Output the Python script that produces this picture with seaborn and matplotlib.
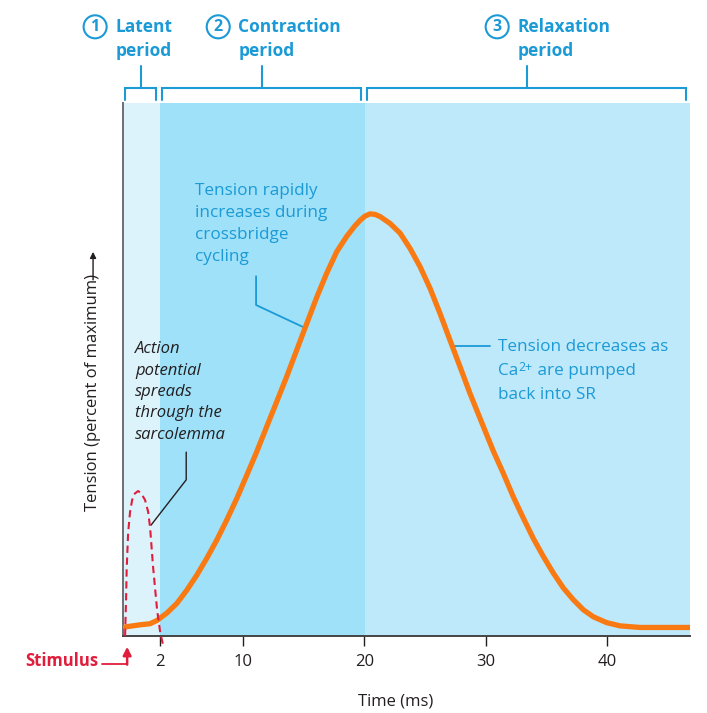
import matplotlib
matplotlib.use("Agg")
import matplotlib.pyplot as plt
import seaborn as sns

# tension curve (ms, percent of maximum)
time_ms = [0.27, 1.51, 2.33, 2.89, 3.71, 4.53, 5.36, 6.18, 7.01, 7.83, 8.66,
           9.48, 10.31, 11.13, 11.95, 12.78, 13.60, 14.43, 15.11, 16.08, 16.90,
           17.72, 18.55, 19.20, 19.65, 20.06, 20.47, 20.88, 21.29, 22.12, 22.94,
           23.77, 24.59, 25.42, 26.24, 27.06, 27.89, 28.71, 29.81, 30.63, 31.46,
           32.28, 33.11, 33.93, 34.76, 35.58, 36.41, 37.23, 38.06, 38.88, 39.98,
           41.08, 42.73, 46.03, 46.85]
tension = [1.7, 2.1, 2.3, 2.9, 4.3, 6.1, 8.6, 11.4, 14.6, 18.0, 21.8,
           25.8, 30.2, 34.6, 39.3, 44.0, 48.7, 53.7, 57.8, 63.6, 68.1,
           72.1, 75.0, 76.9, 78.0, 78.8, 79.2, 79.1, 78.7, 77.4, 75.6,
           72.7, 69.3, 65.2, 60.5, 55.5, 50.5, 45.5, 39.3, 34.7, 30.5,
           26.1, 22.1, 18.3, 14.9, 11.8, 9.0, 6.8, 4.9, 3.6, 2.5,
           1.9, 1.6, 1.6, 1.6]

# action potential (dashed red)
ap_time = [0.27, 0.35, 0.40, 0.52, 0.68, 0.85, 1.01, 1.34, 1.59, 1.92, 2.17,
           2.33, 2.58, 2.91, 3.16, 3.40]
ap_level = [0.0, 6.8, 12.4, 19.3, 23.3, 25.5, 26.6, 27.2, 26.8, 25.5, 23.3,
            20.4, 12.9, 4.9, 0.8, -1.7]

# periods
period_edges = [0.1, 3.16, 20.06, 46.85]
period_colors = ["#dcf3fc", "#9fe1f9", "#bde9fb"]
period_numbers = ["1", "2", "3"]
period_names = ["Latent\nperiod", "Contraction\nperiod", "Relaxation\nperiod"]

tick_pos = [3.16, 10, 20, 30, 40]
tick_labels = ["2", "10", "20", "30", "40"]

blue = "#1b9ad6"
red = "#e01e3c"
orange = "#f97a12"
dark = "#231f20"

sns.set_style("white")
plt.rcParams["font.family"] = ["Open Sans", "DejaVu Sans"]

fig = plt.figure(figsize=(7.07, 7.13), dpi=100)
ax = fig.add_axes([0.174, 0.108, 0.802, 0.7475])

for i in range(3):
    ax.axvspan(period_edges[i], period_edges[i + 1], color=period_colors[i], lw=0, zorder=0)

sns.lineplot(x=time_ms, y=tension, ax=ax, color=orange, linewidth=3.8,
             sort=False, estimator=None, zorder=3)
ax.lines[-1].set_solid_joinstyle("round")
sns.lineplot(x=ap_time, y=ap_level, ax=ax, color=red, linewidth=1.5,
             sort=False, estimator=None, zorder=4)
ax.lines[-1].set_dashes([3.5, 2.2])
ax.lines[-1].set_clip_on(False)

ax.set_xlim(period_edges[0], period_edges[-1])
ax.set_ylim(0, 100)
ax.set_xticks(tick_pos)
ax.set_xticklabels(tick_labels, fontsize=12, color=dark)
ax.set_yticks([])
ax.tick_params(axis="x", direction="out", length=7, width=1, color=dark, pad=6,
               bottom=True)
for s in ["top", "right"]:
    ax.spines[s].set_visible(False)
ax.spines["left"].set_color("#6d6e71")
ax.spines["left"].set_linewidth(1.4)
ax.spines["bottom"].set_color("#444444")
ax.spines["bottom"].set_linewidth(1.4)
ax.set_xlabel("")
ax.set_ylabel("")

# axis labels
ax.text(22.6, -12.2, "Time (ms)", ha="center", va="center", fontsize=12,
        color=dark, clip_on=False)
ax.text(-2.37, 45.6, "Tension (percent of maximum)", rotation=90, ha="center",
        va="center", fontsize=12, color=dark, clip_on=False)
ax.annotate("", xy=(-2.37, 72.6), xytext=(-2.37, 66.3), xycoords="data",
            arrowprops=dict(arrowstyle="-|>", color=dark, lw=1, mutation_scale=9),
            annotation_clip=False)

# brackets and period titles
circle_x = [-2.2, 7.95, 30.95]
text_x = [-0.55, 9.6, 32.6]
for i in range(3):
    x0 = period_edges[i] + 0.15
    x1 = period_edges[i + 1] - 0.3
    xm = (x0 + x1) / 2
    ax.plot([x0, x0, x1, x1], [100.6, 102.8, 102.8, 100.6], color=blue, lw=1.5,
            clip_on=False, solid_joinstyle="miter")
    ax.plot([xm, xm], [102.8, 106.9], color=blue, lw=1.5, clip_on=False)
    ax.text(circle_x[i], 114.3, period_numbers[i], ha="center", va="center",
            fontsize=11.5, fontweight="bold", color=blue, clip_on=False,
            bbox=dict(boxstyle="circle,pad=0.22", fc="white", ec=blue, lw=1.5))
    ax.text(text_x[i], 115.9, period_names[i], ha="left", va="top", fontsize=12.5,
            fontweight="bold", color=blue, linespacing=1.4, clip_on=False)

# annotations
ax.text(6.03, 85.0, "Tension rapidly\nincreases during\ncrossbridge\ncycling",
        ha="left", va="top", fontsize=12.3, color=blue, linespacing=1.5)
ax.plot([11.07, 11.07, 15.11], [67.5, 62.1, 57.8], color=blue, lw=1.3)

fs = 12.3
ax.text(31.0, 53.5, "Tension decreases as", ha="left", va="baseline",
        fontsize=fs, color=blue)
ca = ax.text(31.0, 49.0, "Ca", ha="left", va="baseline", fontsize=fs, color=blue)
sup = ax.annotate("2+", xy=(1, 0.3), xycoords=ca, xytext=(0.5, 0),
                  textcoords="offset points", ha="left", va="bottom", fontsize=8.8,
                  color=blue)
ax.annotate(" are pumped", xy=(1, 0), xycoords=(sup, ca), ha="left",
            va="bottom", fontsize=fs, color=blue)
ax.text(31.0, 44.5, "back into SR", ha="left", va="baseline", fontsize=fs,
        color=blue)
ax.plot([27.31, 30.36], [54.4, 54.4], color=blue, lw=1.3)

ax.text(1.1, 55.3, "Action\npotential\nspreads\nthrough the\nsarcolemma",
        ha="left", va="top", fontsize=12, style="italic", color=dark,
        linespacing=1.45)
ax.plot([5.31, 5.31, 2.41], [34.5, 29.3, 20.8], color=dark, lw=1)

# stimulus marker
ax.annotate("", xy=(0.44, -1.5), xytext=(0.44, -5.9),
            arrowprops=dict(arrowstyle="-|>", color=red, lw=1.8, mutation_scale=12),
            annotation_clip=False)
ax.plot([-1.6, 0.44], [-5.2, -5.2], color=red, lw=1.3, clip_on=False)
ax.text(-1.9, -4.6, "Stimulus", ha="right", va="center", fontsize=12,
        fontweight="bold", color=red, clip_on=False)

fig.savefig("out.png", dpi=100)
